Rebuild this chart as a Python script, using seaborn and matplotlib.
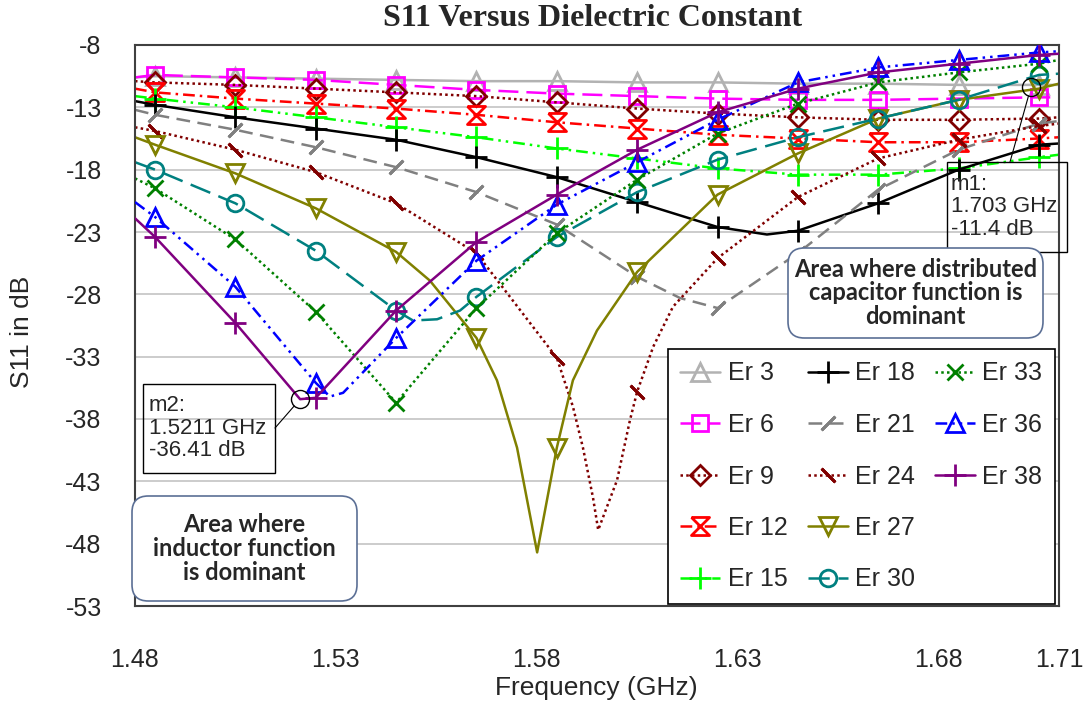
import matplotlib
matplotlib.use("Agg")
import matplotlib.pyplot as plt
from matplotlib.lines import Line2D
from matplotlib.patches import FancyBboxPatch, Rectangle
import pandas as pd
import seaborn as sns

# ==========================
# Data
# ==========================

# frequencies where the series markers sit (GHz)
freq_mk = [1.485, 1.505, 1.525, 1.545, 1.565, 1.585,
           1.605, 1.625, 1.645, 1.665, 1.685, 1.705]
freq_left = 1.48
freq_right = 1.71

# S11 (dB): left edge, 12 marker points, right edge
s11_er3 = [-10.6, -10.5, -10.6, -10.7, -10.8, -10.9, -10.9, -11.0, -11.0, -11.1, -11.1, -11.2, -11.2, -11.2]
s11_er6 = [-10.6, -10.4, -10.6, -10.8, -11.2, -11.6, -11.9, -12.1, -12.3, -12.4, -12.4, -12.3, -12.2, -12.2]
s11_er9 = [-10.9, -11.0, -11.2, -11.5, -11.8, -12.1, -12.6, -13.1, -13.5, -13.8, -14.0, -14.0, -13.9, -13.8]
s11_er12 = [-11.5, -11.8, -12.3, -12.7, -13.1, -13.6, -14.2, -14.7, -15.2, -15.5, -15.8, -15.8, -15.5, -15.4]
s11_er15 = [-12.1, -12.3, -13.0, -13.8, -14.6, -15.4, -16.3, -17.1, -17.9, -18.4, -18.4, -17.9, -17.0, -16.8]
s11_er18 = [-12.5, -12.8, -13.8, -14.7, -15.6, -17.0, -18.6, -20.6, -22.6, -22.9, -20.7, -18.0, -16.0, -15.9]
s11_er21 = [-13.2, -13.6, -14.8, -16.2, -17.8, -19.8, -22.4, -26.6, -29.1, -24.7, -19.6, -16.4, -14.3, -14.1]
s11_er24 = [-14.6, -14.9, -16.4, -18.2, -20.7, -24.7, -33.1, -35.8, -25.1, -20.2, -17.1, -15.6, -14.5, -14.3]
s11_er27 = [-15.4, -16.0, -18.3, -21.1, -24.6, -31.5, -40.3, -26.2, -20.0, -16.7, -13.9, -12.4, -11.5, -11.1]
s11_er30 = [-17.4, -18.0, -20.7, -24.5, -29.3, -28.2, -23.4, -19.8, -17.2, -15.4, -13.9, -12.4, -10.4, -10.3]
s11_er33 = [-18.7, -19.5, -23.6, -29.4, -36.7, -29.1, -23.1, -18.8, -15.1, -12.7, -11.0, -10.2, -9.5, -9.2]
s11_er36 = [-20.6, -21.8, -27.4, -35.1, -31.5, -25.3, -20.8, -17.4, -14.0, -11.0, -9.8, -9.2, -8.6, -8.5]
s11_er38 = [-21.9, -23.4, -30.3, -36.3, -29.3, -23.8, -20.0, -16.4, -13.4, -11.5, -10.2, -9.5, -8.8, -8.7]

# extra points between markers (resonance dips)
dip_er18_f = [1.6373]
dip_er18_v = [-23.2]
dip_er21_f = [1.6157]
dip_er21_v = [-28.3]
dip_er24_f = [1.5890, 1.5915, 1.5940, 1.5953, 1.6000, 1.6032, 1.6090, 1.6139]
dip_er24_v = [-37.0, -40.3, -44.3, -46.9, -42.9, -38.1, -32.2, -29.0]
dip_er27_f = [1.5534, 1.5701, 1.5751, 1.5801, 1.5890, 1.5950]
dip_er27_v = [-26.9, -34.9, -40.3, -48.7, -34.9, -30.9]
dip_er30_f = [1.5492, 1.5552, 1.5609]
dip_er30_v = [-30.1, -30.0, -29.3]
dip_er36_f = [1.5285, 1.5318]
dip_er36_v = [-36.2, -35.9]
dip_er38_f = [1.5211]
dip_er38_v = [-36.41]

# markers m1 / m2
m1_freq = 1.703
m1_s11 = -11.4
m2_freq = 1.5211
m2_s11 = -36.41

x_ticks = [1.48, 1.53, 1.58, 1.63, 1.68, 1.71]
x_tick_labels = ["1.48", "1.53", "1.58", "1.63", "1.68", "1.71"]
y_ticks = [-8, -13, -18, -23, -28, -33, -38, -43, -48, -53]

# hourglass marker used by Excel for Er 12
hourglass = [(-1, 1), (1, 1), (-1, -1), (1, -1), (-1, 1)]

# name, values, extra f, extra v, color, linestyle, marker, marker size
series = [
    ("Er 3", s11_er3, [], [], "#b2b2b2", "-", "^", 13),
    ("Er 6", s11_er6, [], [], "#ff00ff", (0, (8, 3.2)), "s", 12),
    ("Er 9", s11_er9, [], [], "#800000", (0, (1, 1.3)), "D", 10),
    ("Er 12", s11_er12, [], [], "#ff0000", (0, (4.7, 2, 1, 2)), hourglass, 13),
    ("Er 15", s11_er15, [], [], "#00ff00", (0, (4.7, 2, 1, 2, 1, 2)), "+", 16),
    ("Er 18", s11_er18, dip_er18_f, dip_er18_v, "#000000", "-", "+", 16),
    ("Er 21", s11_er21, dip_er21_f, dip_er21_v, "#808080", (0, (5.5, 3)), (2, 2, -45), 14),
    ("Er 24", s11_er24, dip_er24_f, dip_er24_v, "#800000", (0, (1, 1.3)), (2, 2, 45), 14),
    ("Er 27", s11_er27, dip_er27_f, dip_er27_v, "#808000", "-", "v", 13),
    ("Er 30", s11_er30, dip_er30_f, dip_er30_v, "#008080", (0, (8.5, 3.5)), "o", 12),
    ("Er 33", s11_er33, [], [], "#008000", (0, (1, 1.3)), "x", 11),
    ("Er 36", s11_er36, dip_er36_f, dip_er36_v, "#0000ff", (0, (4.7, 2, 1, 2, 1, 2)), "^", 13),
    ("Er 38", s11_er38, dip_er38_f, dip_er38_v, "#800080", "-", "+", 16),
]

# ==========================
# Style
# ==========================

sns.set_style("white")
plt.rcParams["font.family"] = ["Liberation Sans", "DejaVu Sans"]
plt.rcParams["axes.unicode_minus"] = False

W, H = 1084, 711


def fx(px):
    return px / W


def fy(py):
    return 1 - py / H


fig = plt.figure(figsize=(W / 100, H / 100), dpi=100)
ax = fig.add_axes([fx(135), fy(606), fx(1059) - fx(135), fy(45) - fy(606)])

# ==========================
# Curves
# ==========================

handles = []
for i, (name, vals, ef, ev, color, ls, mk, ms) in enumerate(series):
    df = pd.DataFrame({
        "freq": [freq_left] + freq_mk + [freq_right] + ef,
        "s11": vals + ev,
    }).sort_values("freq")
    z = 2 + i * 0.05
    sns.lineplot(data=df, x="freq", y="s11", ax=ax, color=color,
                 linestyle=ls, linewidth=1.8, estimator=None, sort=False,
                 legend=False, zorder=z)
    ax.plot(freq_mk, vals[1:13], linestyle="none", marker=mk, ms=ms,
            mfc="none", mec=color, mew=2, zorder=z + 0.01)
    handles.append(Line2D([], [], color=color, linestyle=ls, linewidth=1.8,
                          marker=mk, ms=ms, mfc="none", mec=color, mew=2,
                          label=name))

# blank slot so the legend columns hold 5 / 5 / 3 entries
handles.append(Line2D([], [], linestyle="none", label=" "))

# ==========================
# Axes
# ==========================

ax.set_xlim(1.48, 1.71)
ax.set_ylim(-53, -8)
ax.set_xticks(x_ticks)
ax.set_xticklabels(x_tick_labels)
ax.set_yticks(y_ticks)
ax.set_xlabel("")
ax.set_ylabel("")
ax.yaxis.grid(True, color="#c8c8c8", linewidth=1.3)
ax.xaxis.grid(False)
ax.tick_params(axis="x", length=0, labelsize=18, pad=30)
ax.tick_params(axis="y", length=0, labelsize=18, pad=24)
for sp in ax.spines.values():
    sp.set_color("#404040")
    sp.set_linewidth(1.5)

fig.text(fx(593), fy(19), "S11 Versus Dielectric Constant", ha="center",
         va="center", fontsize=23, fontweight="bold",
         family=["Liberation Serif", "DejaVu Serif"])
fig.text(fx(596), fy(688), "Frequency (GHz)", ha="center", va="center",
         fontsize=19)
fig.text(fx(22), fy(332), "S11 in dB", ha="center", va="center",
         fontsize=19, rotation=90)

leg = ax.legend(handles=handles, ncol=3, loc="lower right",
                bbox_to_anchor=(fx(1055), fy(604)),
                bbox_transform=fig.transFigure, borderaxespad=0,
                frameon=True, fancybox=False, edgecolor="black",
                framealpha=1, fontsize=18, handlelength=1.6,
                handletextpad=0.3, columnspacing=0.8, labelspacing=1.1,
                borderpad=0.5)
leg.get_frame().set_linewidth(1.2)
leg.set_zorder(10)

# ==========================
# Marker readouts m1 / m2
# ==========================

for f, v in [(m1_freq, m1_s11), (m2_freq, m2_s11)]:
    ax.plot([f], [v], linestyle="none", marker="o", ms=13, mfc="none",
            mec="black", mew=1, zorder=20)

ax.annotate("", xy=(m1_freq, m1_s11), xytext=(fx(1010), fy(162)),
            textcoords="figure fraction",
            arrowprops=dict(arrowstyle="-", color="black", lw=0.8,
                            shrinkA=0, shrinkB=6.5))
ax.annotate("", xy=(m2_freq, m2_s11), xytext=(fx(275), fy(428)),
            textcoords="figure fraction",
            arrowprops=dict(arrowstyle="-", color="black", lw=0.8,
                            shrinkA=0, shrinkB=6.5))

fig.add_artist(Rectangle((fx(947), fy(252)), fx(1067) - fx(947),
                         fy(162) - fy(252), transform=fig.transFigure,
                         fill=False, edgecolor="black", linewidth=1))
fig.text(fx(951), fy(207), f"m1:\n{m1_freq} GHz\n{m1_s11} dB",
         ha="left", va="center", fontsize=16, linespacing=1.1)

fig.add_artist(Rectangle((fx(143), fy(473)), fx(275) - fx(143),
                         fy(384) - fy(473), transform=fig.transFigure,
                         fill=False, edgecolor="black", linewidth=1))
fig.text(fx(149), fy(428), f"m2:\n{m2_freq} GHz\n{m2_s11} dB",
         ha="left", va="center", fontsize=16, linespacing=1.1)

# ==========================
# Region notes
# ==========================

for (x0, y0, x1, y1), txt in [
    ((788, 248, 1043, 338), "Area where distributed\ncapacitor function is\ndominant"),
    ((132, 496, 357, 601), "Area where\ninductor function\nis dominant"),
]:
    fig.add_artist(FancyBboxPatch(
        (fx(x0), fy(y1)), fx(x1) - fx(x0), fy(y0) - fy(y1),
        boxstyle="round,pad=0,rounding_size=0.015", mutation_aspect=W / H,
        transform=fig.transFigure, facecolor="white",
        edgecolor="#5b6f95", linewidth=1.2, zorder=4))
    fig.text(fx((x0 + x1) / 2), fy((y0 + y1) / 2), txt, ha="center",
             va="center", fontsize=17, fontweight="bold", linespacing=1.05,
             family=["Lato", "DejaVu Sans"], zorder=5)

fig.savefig("out.png", dpi=100)
